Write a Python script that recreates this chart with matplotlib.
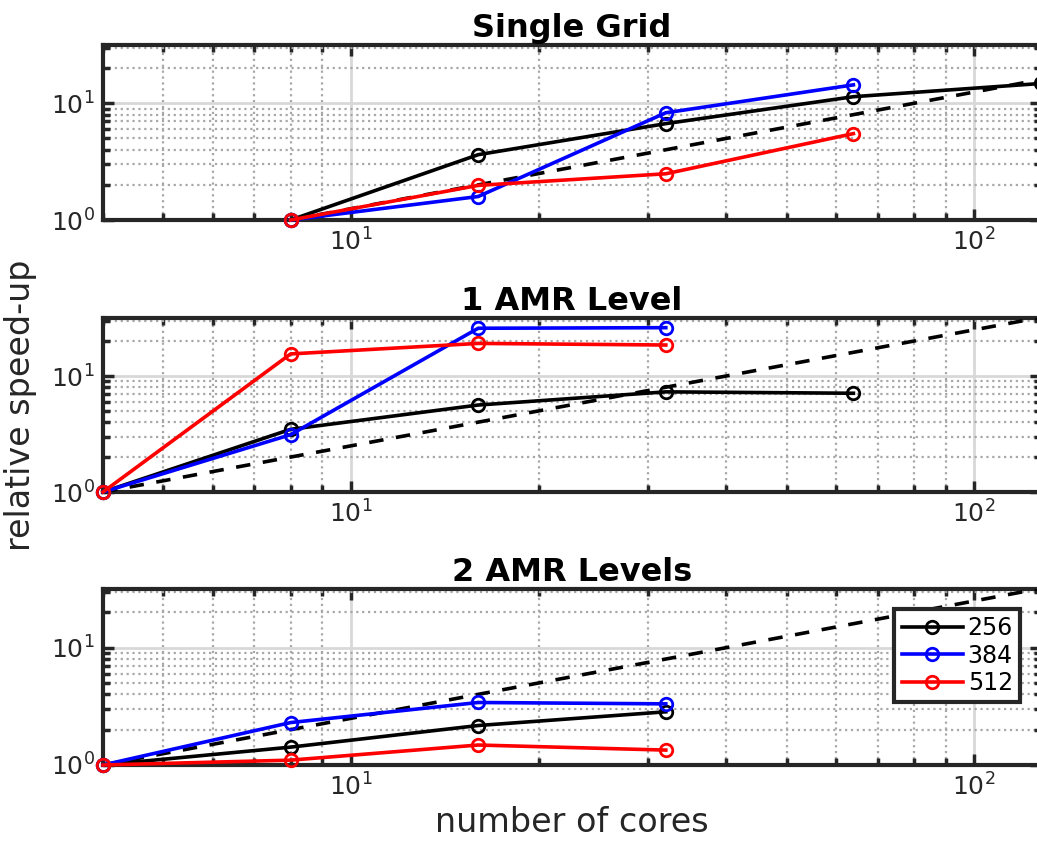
import numpy as np
import matplotlib
matplotlib.use("Agg")
import matplotlib.pyplot as plt
from matplotlib.ticker import LogLocator, NullFormatter

plt.rcParams['font.family'] = ['DejaVu Sans']

# --- data ---
titles = ["Single Grid", "1 AMR Level", "2 AMR Levels"]
labels = ["256", "384", "512"]
colors = ["black", "blue", "red"]

single_cores = [8, 16, 32, 64, 128]
single_256 = [1.0, 3.63, 6.7, 11.4, 14.8]
single_384 = [1.0, 1.59, 8.3, 14.4]
single_512 = [1.0, 1.98, 2.49, 5.5]
single_ideal = [8, 128]

amr1_cores = [4, 8, 16, 32, 64]
amr1_256 = [1.0, 3.47, 5.62, 7.3, 7.1]
amr1_384 = [1.0, 3.12, 25.8, 26.1]
amr1_512 = [1.0, 15.5, 19.1, 18.5]
amr1_ideal = [4, 128]

amr2_cores = [4, 8, 16, 32]
amr2_256 = [1.0, 1.42, 2.17, 2.84]
amr2_384 = [1.0, 2.3, 3.41, 3.32]
amr2_512 = [1.0, 1.1, 1.48, 1.34]
amr2_ideal = [4, 128]

panels = [
    (single_cores, [single_256, single_384, single_512], single_ideal),
    (amr1_cores, [amr1_256, amr1_384, amr1_512], amr1_ideal),
    (amr2_cores, [amr2_256, amr2_384, amr2_512], amr2_ideal),
]

W, H = 1037, 850
fig = plt.figure(figsize=(W / 100, H / 100), dpi=100)

# axes rectangles in pixels: (left, top, right, bottom)
rects = [(103, 45, 1041, 220), (103, 318, 1041, 492), (103, 589, 1041, 765)]
axc = '#262626'

for i, ((cores, series, ideal), (l, t, r, b)) in enumerate(zip(panels, rects)):
    ax = fig.add_axes([l / W, 1 - b / H, (r - l) / W, (b - t) / H])
    ax.set_xscale('log')
    ax.set_yscale('log')

    # ideal speed-up
    ix = np.array(ideal, dtype=float)
    ax.plot(ix, ix / ix[0], 'k--', lw=2.6, dashes=(4, 3.5), zorder=3)

    for ys, c, lab in zip(series, colors, labels):
        ax.plot(cores[:len(ys)], ys, '-o', color=c, lw=2.6, ms=9,
                mfc='none', mew=2, label=lab, zorder=4, clip_on=False)

    ax.set_xlim(4, 128)
    ax.set_ylim(1, 10 ** 1.5)
    ax.xaxis.set_major_locator(LogLocator(base=10, numticks=10))
    ax.xaxis.set_minor_locator(LogLocator(base=10, subs=np.arange(2, 10), numticks=20))
    ax.yaxis.set_major_locator(LogLocator(base=10, numticks=10))
    ax.yaxis.set_minor_locator(LogLocator(base=10, subs=np.arange(2, 10), numticks=20))
    ax.xaxis.set_minor_formatter(NullFormatter())
    ax.yaxis.set_minor_formatter(NullFormatter())

    ax.grid(True, which='major', color='#d8d8d8', lw=2, ls='-', zorder=0)
    ax.grid(True, which='minor', color='#a8a8a8', lw=1.6, ls=':', zorder=0)
    ax.set_axisbelow(True)

    ax.tick_params(which='both', direction='in', top=True, right=True,
                   colors=axc, labelsize=18, width=2.5)
    ax.tick_params(which='major', length=8, pad=6)
    ax.tick_params(which='minor', length=5)
    for s in ax.spines.values():
        s.set_linewidth(3)
        s.set_color(axc)

    ax.set_title(titles[i], fontsize=23, fontweight='bold', pad=6)

    if i == 1:
        ax.set_ylabel('relative speed-up', fontsize=24, color=axc, labelpad=10)
    if i == 2:
        ax.set_xlabel('number of cores', fontsize=24, color=axc, labelpad=4)
        leg = ax.legend(loc='upper right', bbox_to_anchor=(1020 / W, 1 - 609 / H),
                        bbox_transform=fig.transFigure, borderaxespad=0,
                        fontsize=17, frameon=True, fancybox=False,
                        edgecolor=axc, handlelength=2.6,
                        handletextpad=0.2, borderpad=0.3, labelspacing=0.15)
        leg.get_frame().set_linewidth(3)
        leg.get_frame().set_alpha(1)

fig.savefig('out.png', dpi=100)
